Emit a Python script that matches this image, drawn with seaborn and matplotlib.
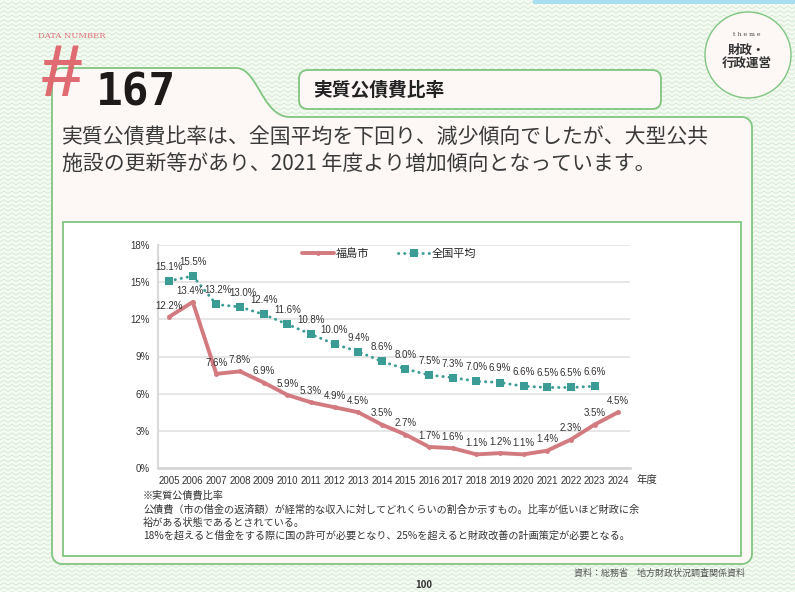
"""
Fukushima city real debt service ratio vs national average (2005-2024).
Recreates the data page layout with a seaborn line chart in the middle.
"""

import numpy as np
import pandas as pd
import seaborn as sns
import matplotlib.pyplot as plt
from matplotlib.patches import FancyBboxPatch, Circle, Polygon
from matplotlib.lines import Line2D


# ---------------------------------------------------------------------
# Data
# ---------------------------------------------------------------------
YEARS = list(range(2005, 2025))
FUKUSHIMA = [12.2, 13.4, 7.6, 7.8, 6.9, 5.9, 5.3, 4.9, 4.5, 3.5,
             2.7, 1.7, 1.6, 1.1, 1.2, 1.1, 1.4, 2.3, 3.5, 4.5]
NATIONAL_YEARS = list(range(2005, 2024))
NATIONAL = [15.1, 15.5, 13.2, 13.0, 12.4, 11.6, 10.8, 10.0, 9.4, 8.6,
            8.0, 7.5, 7.3, 7.0, 6.9, 6.6, 6.5, 6.5, 6.6]
Y_TICKS = [0, 3, 6, 9, 12, 15, 18]
SERIES_NAMES = ["福島市", "全国平均"]

TITLE = "実質公債費比率"
NUMBER = "167"
THEME = ["財政・", "行政運営"]
LEAD = [
    "実質公債費比率は、全国平均を下回り、減少傾向でしたが、大型公共",
    "施設の更新等があり、2021 年度より増加傾向となっています。",
]
NOTES = [
    "※実質公債費比率",
    "公債費（市の借金の返済額）が経常的な収入に対してどれくらいの割合か示すもの。比率が低いほど財政に余",
    "裕がある状態であるとされている。",
    "18%を超えると借金をする際に国の許可が必要となり、25%を超えると財政改善の計画策定が必要となる。",
]
SOURCE = "資料：総務省　地方財政状況調査関係資料"
PAGE = "100"

# ---------------------------------------------------------------------
# Style
# ---------------------------------------------------------------------
W, H = 795, 592
RED = "#d27a80"
TEAL = "#3a9c95"
GREEN = "#80c581"
PANEL = "#fdf8f6"
TEXT = "#333333"

sns.set_theme(style="white")
JP = "Noto Sans CJK JP"
plt.rcParams["font.family"] = [JP, "DejaVu Sans"]

# narrow-ish digits for ticks and value labels
NUM_FONT = dict(family=["Liberation Sans", JP])


def rounded_arc(cx, cy, r, a0, a1, n=10):
    a = np.radians(np.linspace(a0, a1, n))
    return np.column_stack([cx + r * np.cos(a), cy + r * np.sin(a)])


def panel_outline():
    """Outline of the main card with the tab on the upper left."""
    t = np.linspace(0, 1, 30)[:, None]
    p0, p1, p2, p3 = map(np.array, [(236, 68), (258, 68), (262, 117), (290, 117)])
    bez = ((1 - t) ** 3) * p0 + 3 * ((1 - t) ** 2) * t * p1 + 3 * (1 - t) * t ** 2 * p2 + t ** 3 * p3
    parts = [
        rounded_arc(62, 78, 10, 180, 270),
        bez,
        rounded_arc(742, 127, 10, 270, 360),
        rounded_arc(742, 554, 10, 0, 90),
        rounded_arc(62, 554, 10, 90, 180),
    ]
    return np.vstack(parts)


# ---------------------------------------------------------------------
# Figure
# ---------------------------------------------------------------------
fig = plt.figure(figsize=(W / 100, H / 100), dpi=100)
bg = fig.add_axes([0, 0, 1, 1], zorder=0)
bg.set_xlim(0, W)
bg.set_ylim(H, 0)
bg.axis("off")
fig.patch.set_facecolor("#f4faf2")

# zigzag paper texture
zx = np.arange(0, W + 8, 4.0)
for y0 in np.arange(0, H + 6, 4.4):
    zy = y0 + np.where(np.arange(len(zx)) % 2 == 0, 0, -2.6)
    bg.plot(zx, zy, color="#d0e9cf", lw=0.6, zorder=0)

bg.add_patch(plt.Rectangle((533, 0), W - 533, 4, color="#a8def0", lw=0, zorder=1))

bg.add_patch(Polygon(panel_outline(), closed=True, facecolor=PANEL,
                     edgecolor=GREEN, lw=1.3, zorder=2))
bg.add_patch(FancyBboxPatch((299, 70), 362, 39, boxstyle="round,pad=0,rounding_size=9",
                            facecolor=PANEL, edgecolor=GREEN, lw=1.3, zorder=3))
bg.add_patch(plt.Rectangle((63, 222), 678, 334, facecolor="white",
                           edgecolor=GREEN, lw=1.3, zorder=3))
bg.add_patch(Circle((748, 55), 43, facecolor=PANEL, edgecolor=GREEN, lw=1.0, zorder=3))

# header texts
bg.text(38, 36, "DATA NUMBER", fontsize=6, color="#e0707a", family="DejaVu Serif",
        va="center", ha="left", zorder=5)
bg.text(60, 77, "#", fontsize=54, color="#e0636c", fontweight="bold", style="italic",
        family="Liberation Sans", ha="center", va="center", zorder=5, alpha=0.95)
bg.text(96, 93, NUMBER, fontsize=32, fontweight="bold", family="DejaVu Sans Mono",
        color="#1e1a1a", ha="left", va="center", zorder=5)
bg.text(313, 90, TITLE, fontsize=13.5, fontweight="bold", color="#222222",
        ha="left", va="center", zorder=5)

bg.text(747, 35, "t h e m e", fontsize=4.5, color="#444444", family="DejaVu Serif",
        ha="center", va="center", zorder=5)
bg.text(747, 50, THEME[0], fontsize=9, fontweight="bold", color="#333333",
        ha="center", va="center", zorder=5)
bg.text(747, 64, THEME[1], fontsize=9, fontweight="bold", color="#333333",
        ha="center", va="center", zorder=5)

for i, line in enumerate(LEAD):
    bg.text(62, 137 + i * 27, line, fontsize=15, color="#3a3a3a",
            ha="left", va="center", zorder=5)

for i, line in enumerate(NOTES):
    bg.text(143, 496 + i * 13.3, line, fontsize=7.3, color=TEXT,
            ha="left", va="center", zorder=5)

bg.text(745, 573, SOURCE, fontsize=6.5, color="#555555", ha="right", va="center", zorder=5)
bg.text(424, 585, PAGE, fontsize=7, fontweight="bold", color="#333333",
        ha="center", va="center", zorder=5)

# ---------------------------------------------------------------------
# Chart
# ---------------------------------------------------------------------
ax = fig.add_axes([158 / W, 1 - 468 / H, (630 - 158) / W, (468 - 245) / H], zorder=4)
ax.set_facecolor("none")

city = pd.DataFrame({"year": YEARS, "ratio": FUKUSHIMA})
nation = pd.DataFrame({"year": NATIONAL_YEARS, "ratio": NATIONAL})

sns.lineplot(data=city, x="year", y="ratio", ax=ax, color=RED, lw=2.8,
             marker="o", markersize=3.5, markeredgewidth=0, zorder=3)
sns.lineplot(data=nation, x="year", y="ratio", ax=ax, color=TEAL, lw=2.1,
             linestyle=(0, (0.1, 2.0)), dash_capstyle="round",
             marker="s", markersize=6, markeredgewidth=0, zorder=3)

# labels around 2006-2008 sit close together; nudge them apart a little
city_dx = {2006: -2}
nation_dx = {2007: 1, 2008: 2.5}
for x, v in zip(YEARS, FUKUSHIMA):
    ax.annotate(f"{v:.1f}%", (x, v), xytext=(city_dx.get(x, 0), 4.5),
                textcoords="offset points", ha="center", va="bottom",
                fontsize=7, color="#333333", **NUM_FONT)
for x, v in zip(NATIONAL_YEARS, NATIONAL):
    ax.annotate(f"{v:.1f}%", (x, v), xytext=(nation_dx.get(x, 0), 6.5),
                textcoords="offset points", ha="center", va="bottom",
                fontsize=7, color="#333333", **NUM_FONT)

ax.set_xlim(YEARS[0] - 0.47, YEARS[-1] + 0.5)
ax.set_ylim(Y_TICKS[0], Y_TICKS[-1])
ax.set_xticks(YEARS)
ax.set_xticklabels([str(y) for y in YEARS], fontsize=7, color="#333333", **NUM_FONT)
ax.set_yticks(Y_TICKS)
ax.set_yticklabels([f"{t}%" for t in Y_TICKS], fontsize=7, color="#333333", **NUM_FONT)
ax.tick_params(length=0, pad=6)
ax.set_xlabel("")
ax.set_ylabel("")
ax.yaxis.grid(True, color="#e2e2e2", lw=1.2)
ax.set_axisbelow(True)
for side in ["top", "right"]:
    ax.spines[side].set_visible(False)
ax.spines["left"].set_color("#dadada")
ax.spines["left"].set_linewidth(1.5)
ax.spines["bottom"].set_color("#d6d6d6")
ax.spines["bottom"].set_linewidth(2)

ax.text(1.013, -0.055, "年度", transform=ax.transAxes, fontsize=7.5, color="#333333",
        ha="left", va="center")

handles = [
    Line2D([], [], color=RED, lw=2.8, marker="o", markersize=3.5, markeredgewidth=0),
    Line2D([], [], color=TEAL, lw=2.1, linestyle=(0, (0.1, 2.0)), dash_capstyle="round",
           marker="s", markersize=6, markeredgewidth=0),
]
ax.legend(handles, SERIES_NAMES, loc="center left", bbox_to_anchor=(0.295, 0.962),
          ncol=2, frameon=False, fontsize=8, handlelength=2.9, handletextpad=0.15,
          columnspacing=2.6, borderaxespad=0)

fig.savefig("out.png", dpi=100)
